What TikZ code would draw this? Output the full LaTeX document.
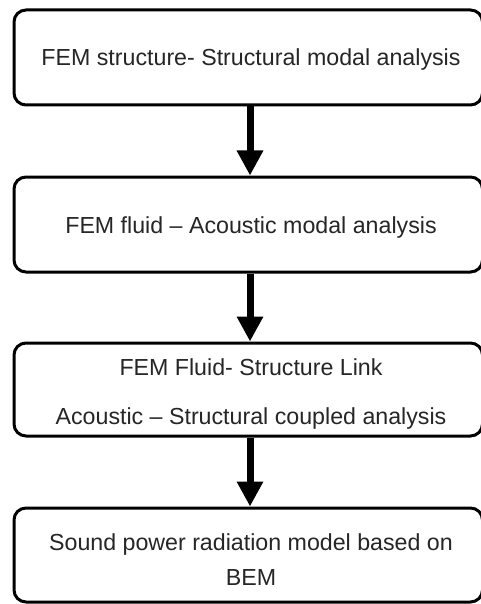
\documentclass[tikz,border=0pt]{standalone}
\usepackage{fontspec}
\setmainfont{Liberation Sans}
\usetikzlibrary{arrows.meta}
\begin{document}
\begin{tikzpicture}[x=1pt,y=1pt,
  stepbox/.style={draw=black, line width=3pt, rounded corners=12pt, minimum width=468.5pt, inner sep=0pt, fill=white},
  lbl/.style={anchor=base, inner sep=0pt, text=black!85, font=\fontsize{23.2}{27}\selectfont},
  flow/.style={line width=7pt, -{Triangle[width=25pt,length=25pt]}}]
\useasboundingbox (0,0) rectangle (481,-604);
\clip (0,0) rectangle (481,-604);
\fill[white] (0,0) rectangle (481,-604);
\node[stepbox, minimum height=95pt] (b1) at (248.25,-57.5) {};
\node[stepbox, minimum height=95pt] (b2) at (248.25,-224.5) {};
\node[stepbox, minimum height=93pt] (b3) at (248.25,-389.5) {};
\node[stepbox, minimum height=94pt] (b4) at (248.25,-555) {};
\node[lbl] (t1) at (251,-66) {FEM structure- Structural modal analysis};
\node[lbl] (t2) at (251,-233) {FEM fluid – Acoustic modal analysis};
\node[lbl] (t3a) at (251,-375) {FEM Fluid- Structure Link};
\node[lbl] (t3b) at (251,-424) {Acoustic – Structural coupled analysis};
\node[lbl] (t4a) at (251,-550) {Sound power radiation model based on};
\node[lbl] (t4b) at (251,-585) {BEM};
\coordinate (a1) at (250,-105);
\draw[flow] (b1.south -| a1) -- (b2.north -| a1);
\draw[flow] (b2.south -| a1) -- (b3.north -| a1);
\draw[flow] (b3.south -| a1) -- (b4.north -| a1);
\end{tikzpicture}
\end{document}
